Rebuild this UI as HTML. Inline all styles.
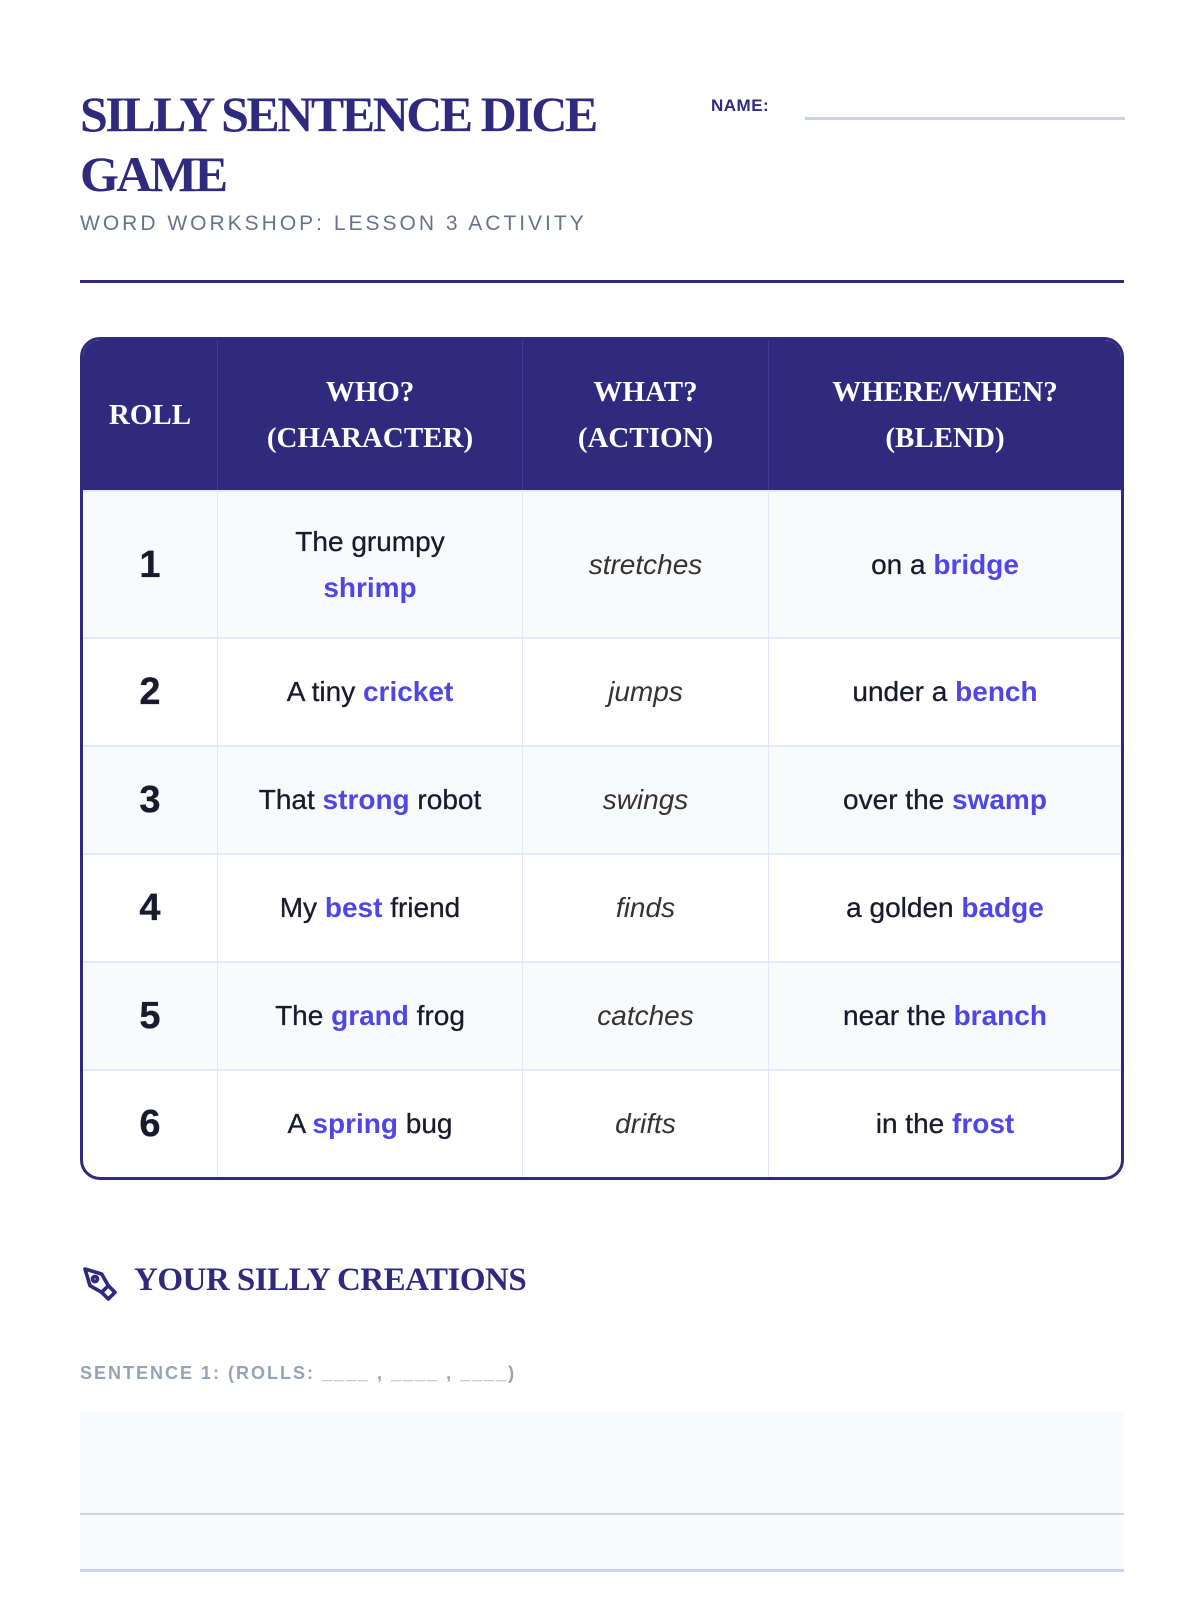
<!DOCTYPE html>
<html><head><meta charset="utf-8"><style>
*{box-sizing:border-box;margin:0;padding:0}
body{width:1200px;height:1600px;background:#fff;font-family:"Liberation Sans","DejaVu Sans",sans-serif;position:relative;overflow:hidden}
.abs{position:absolute}
h1{position:absolute;left:80px;top:84px;width:560px;font-family:"Liberation Serif",serif;font-weight:bold;font-size:50px;line-height:60px;color:#302a7e;letter-spacing:-2.5px}
.sub{left:80px;top:212px;font-size:21px;letter-spacing:3px;color:#64748b}
.name{left:711px;top:96px;font-size:17px;color:#302a7e;font-weight:bold;letter-spacing:0.5px}
table{position:absolute;left:80px;top:337px;width:1044px;border-collapse:separate;border-spacing:0;border:3px solid #302a7e;border-radius:20px;overflow:hidden}
th{background:#302a7e;color:#fff;font-family:"Liberation Serif",serif;font-weight:bold;font-size:29px;line-height:46px;height:150px;border-right:1px solid #3f3a93}
td{text-align:center;font-size:28px;color:#1a1a2e;border-right:1px solid #e0e7ff;border-top:2px solid #e0e7ff;height:108px;line-height:46px;-webkit-text-stroke:0.3px #1a1a2e}
tr:nth-child(even) td{background:#f8fafc}
th:last-child,td:last-child{border-right:none}
td.n{font-weight:bold;font-size:38px}
td.i{font-style:italic;color:#333;-webkit-text-stroke:0}
b{color:#4f46e5;font-weight:bold;-webkit-text-stroke:0}
</style></head><body>
<h1>SILLY SENTENCE DICE GAME</h1>
<div class="abs sub">WORD WORKSHOP: LESSON 3 ACTIVITY</div>
<div class="abs name">NAME:</div>
<div class="abs" style="left:805px;top:117px;width:320px;height:3px;background:#cbd5e1"></div>
<div class="abs" style="left:80px;top:280px;width:1044px;height:3px;background:#302a7e"></div>
<table>
<tr><th style="width:135px">ROLL</th><th style="width:305px">WHO?<br>(CHARACTER)</th><th style="width:246px">WHAT?<br>(ACTION)</th><th>WHERE/WHEN?<br>(BLEND)</th></tr>
<tr><td class="n" style="height:147px">1</td><td>The grumpy<br><b>shrimp</b></td><td class="i">stretches</td><td>on a <b>bridge</b></td></tr>
<tr><td class="n">2</td><td>A tiny <b>cricket</b></td><td class="i">jumps</td><td>under a <b>bench</b></td></tr>
<tr><td class="n">3</td><td>That <b>strong</b> robot</td><td class="i">swings</td><td>over the <b>swamp</b></td></tr>
<tr><td class="n">4</td><td>My <b>best</b> friend</td><td class="i">finds</td><td>a golden <b>badge</b></td></tr>
<tr><td class="n">5</td><td>The <b>grand</b> frog</td><td class="i">catches</td><td>near the <b>branch</b></td></tr>
<tr><td class="n">6</td><td>A <b>spring</b> bug</td><td class="i">drifts</td><td>in the <b>frost</b></td></tr>
</table>
<svg class="abs" style="left:80px;top:1264px" width="40" height="40" viewBox="0 0 24 24" fill="none" stroke="#302a7e" stroke-width="2.2" stroke-linejoin="round"><path d="M3 3l10 3 4 7-4 4-7-4z"/><circle cx="9" cy="9" r="1.5"/><path d="M17 13l4 4-4 4-4-4"/></svg>
<div class="abs" style="left:134px;top:1262px;font-family:'Liberation Serif',serif;font-weight:bold;font-size:33px;color:#302a7e;letter-spacing:-0.5px">YOUR SILLY CREATIONS</div>
<div class="abs" style="left:80px;top:1363px;font-size:18px;letter-spacing:2px;color:#94a3b8;font-weight:bold">SENTENCE 1: (ROLLS: ____ , ____ , ____)</div>
<div class="abs" style="left:80px;top:1412px;width:1044px;height:158px;background:#f8fafc"></div>
<div class="abs" style="left:80px;top:1513px;width:1044px;height:2px;background:#cbd5e1"></div>
<div class="abs" style="left:80px;top:1569px;width:1044px;height:3px;background:#c7d2fe"></div>
</body></html>
